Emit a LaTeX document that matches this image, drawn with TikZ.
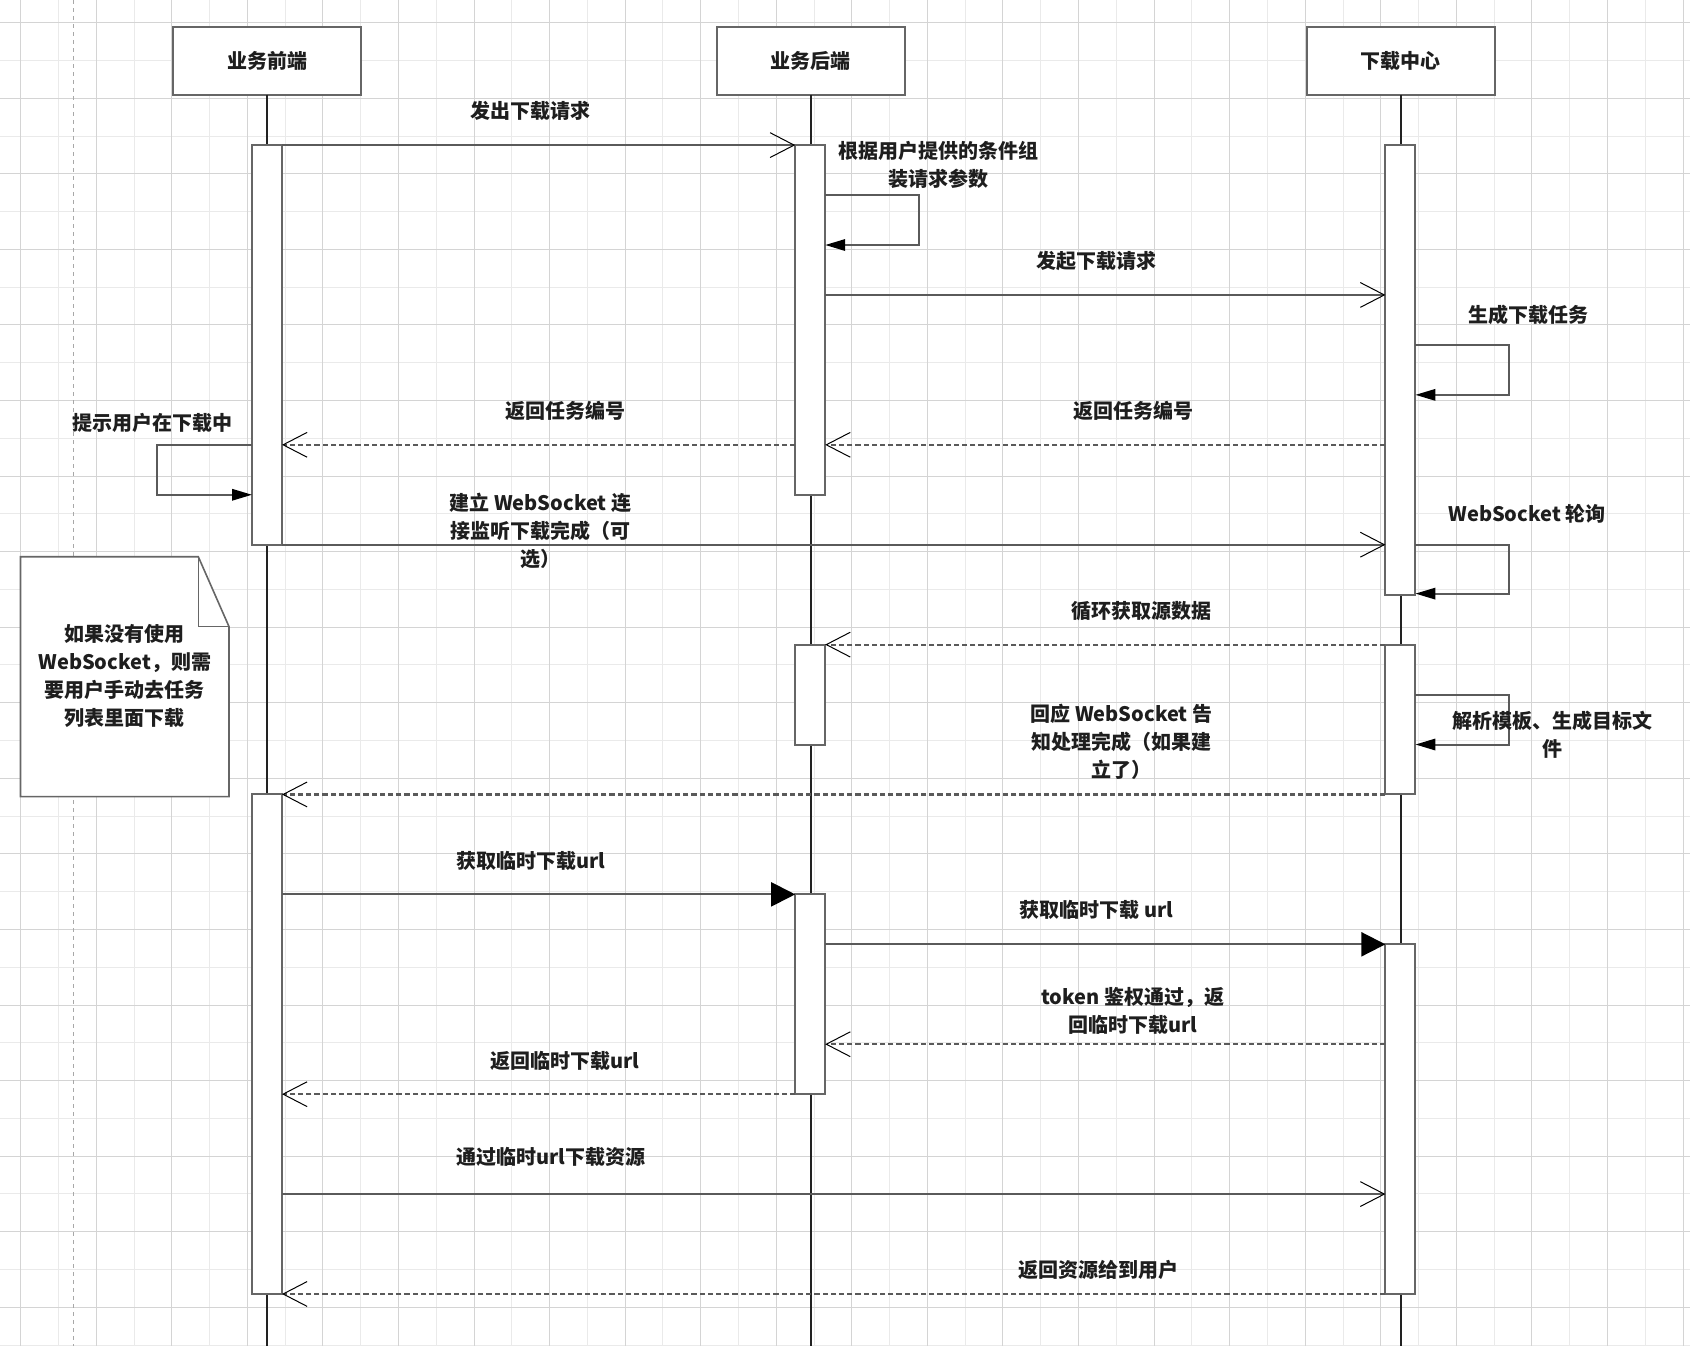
\documentclass[tikz,border=0pt]{standalone}
\usepackage{fontspec}
\setmainfont{Noto Sans CJK SC}
\usetikzlibrary{arrows.meta}
\definecolor{gridA}{HTML}{D4D4D4}
\definecolor{gridB}{HTML}{EAEAEA}
\definecolor{edge}{HTML}{666666}
\definecolor{linec}{HTML}{5A5A5A}
\definecolor{lifec}{HTML}{222222}
\definecolor{pagec}{HTML}{A8A8A8}
\definecolor{txt}{HTML}{1E1E1E}
\begin{document}
\begin{tikzpicture}[x=0.5pt,y=-0.5pt,
 lbl/.style={font=\fontsize{10}{14}\selectfont\bfseries, text=txt, align=center, inner sep=0pt},
 actor/.style={draw=edge, line width=1pt, fill=white, minimum width=94pt, minimum height=34pt, inner sep=0pt, outer sep=0pt, lbl},
 bar/.style={draw=edge, line width=1pt, fill=white, minimum width=15pt, inner sep=0pt, outer sep=0pt},
 life/.style={draw=lifec, line width=1pt},
 msg/.style={draw=linec, line width=1pt},
 ret/.style={msg, line width=1.1pt, dash pattern=on 2.6pt off 1.5pt},
 openhead/.style={-{Straight Barb[length=12pt,width=12.4pt,line width=0.5pt,color=black]}},
 bighead/.style={-{Triangle[length=12pt,width=12pt,color=black]}},
 smallhead/.style={-{Triangle[length=10pt,width=5.7pt,color=black]}},
]
\useasboundingbox (0,0) rectangle (1690,1346);
\fill[white] (0,0) rectangle (1690,1346);
% grid
\foreach \k in {1,3,...,43}{\draw[gridB, line width=0.5pt] ({20.7+37.78*\k},0) -- ({20.7+37.78*\k},1346);}
\foreach \k in {1,3,...,35}{\draw[gridB, line width=0.5pt] (0,{22.7+37.78*\k}) -- (1690,{22.7+37.78*\k});}
\foreach \k in {0,2,...,44}{\draw[gridA, line width=0.5pt] ({20.7+37.78*\k},0) -- ({20.7+37.78*\k},1346);}
\foreach \k in {0,2,...,34}{\draw[gridA, line width=0.5pt] (0,{22.7+37.78*\k}) -- (1690,{22.7+37.78*\k});}
\draw[pagec, line width=0.5pt, dash pattern=on 2pt off 2pt] (73.3,0) -- (73.3,1346);

% actors
\node[actor] (A) at (267,60.5) {业务前端};
\node[actor] (B) at (810.5,60.5) {业务后端};
\node[actor] (C) at (1400.8,60.5) {下载中心};
\coordinate (Aend) at (267,1346);
\coordinate (Bend) at (810.5,1346);
\coordinate (Cend) at (1400.8,1346);
\draw[life] (A.south) -- (Aend);
\draw[life] (B.south) -- (Bend);
\draw[life] (C.south) -- (Cend);

% activation bars
\node[bar, minimum height=199.8pt] (F1) at (267,344.9) {};
\node[bar, minimum height=174.825pt] (B1) at (810.2,319.925) {};
\node[bar, minimum height=224.775pt] (D1) at (1400.4,369.875) {};
\node[bar, minimum height=49.95pt] (B2) at (810.2,694.55) {};
\node[bar, minimum height=74.925pt] (D2) at (1400.4,719.525) {};
\node[bar, minimum height=249.75pt] (F2) at (267,1044.2) {};
\node[bar, minimum height=99.9pt] (B3) at (810.2,994.25) {};
\node[bar, minimum height=174.825pt] (D3) at (1400.4,1119.125) {};

% levels
\coordinate (y1) at (0,195.05);
\coordinate (y2) at (0,245.0);
\coordinate (y3) at (0,294.95);
\coordinate (y4) at (0,344.9);
\coordinate (y5) at (0,394.85);
\coordinate (y6) at (0,444.8);
\coordinate (y7) at (0,494.75);
\coordinate (y8) at (0,544.7);
\coordinate (y9) at (0,593.6);
\coordinate (y11) at (0,694.55);
\coordinate (y12) at (0,744.5);
\coordinate (y18) at (0,1044.2);
\coordinate (y21) at (0,1194.05);

% messages
\draw[msg,openhead] (F1.north east) -- (B1.north west);
\draw[msg,smallhead] (B1.east |- y1) -- ++(93.5,0) |- (B1.east |- y2);
\draw[msg,openhead] (B1.east |- y3) -- (D1.west |- y3);
\draw[msg,smallhead] (D1.east |- y4) -- ++(93.5,0) |- (D1.east |- y5);
\draw[ret,openhead] (D1.west |- y6) -- (B1.east |- y6);
\draw[ret,openhead] (B1.west |- y6) -- (F1.east |- y6);
\draw[msg,smallhead] (F1.west |- y6) -- ++(-95,0) |- (F1.west |- y7);
\draw[msg,openhead] (F1.south east) -- (D1.west |- y8);
\draw[msg,smallhead] (D1.east |- y8) -- ++(93.5,0) |- (D1.east |- y9);
\draw[ret,openhead] (D2.north west) -- (B2.north east);
\draw[msg,smallhead] (D2.east |- y11) -- ++(93.5,0) |- (D2.east |- y12);
\draw[ret,openhead] (D2.south west) -- (F2.north east);
\draw[msg,bighead] (F2.east |- B3.north) -- (B3.north west);
\draw[msg,bighead] (B3.east |- D3.north) -- (D3.north west);
\draw[ret,openhead] (D3.west |- y18) -- (B3.east |- y18);
\draw[ret,openhead] (B3.south west) -- (F2.east |- B3.south west);
\draw[msg,openhead] (F2.east |- y21) -- (D3.west |- y21);
\draw[ret,openhead] (D3.south west) -- (F2.south east);

% note
\draw[draw=edge, line width=0.8pt, fill=white] (20.5,556.7) -- (198.3,556.7) -- (229,626.6) -- (229,796.6) -- (20.5,796.6) -- cycle;
\draw[edge, line width=0.8pt] (198.3,556.7) -- (198.3,626.6) -- (229,626.6);
\node[lbl] (note) at (124.7,676.3) {如果没有使用\\WebSocket，则需\\要用户手动去任务\\列表里面下载};

% labels
\node[lbl] (t1) at (530.8,110.7) {发出下载请求};
\node[lbl] (t2) at (938,164.6) {根据用户提供的条件组\\装请求参数};
\node[lbl] (t3) at (1096.4,260.5) {发起下载请求};
\node[lbl] (t4) at (1528,314.6) {生成下载任务};
\node[lbl] (t5) at (565,410.7) {返回任务编号};
\node[lbl] (t6) at (1133,410.7) {返回任务编号};
\node[lbl] (t7) at (152,422.8) {提示用户在下载中};
\node[lbl] (t8) at (540.5,530.9) {建立 WebSocket 连\\接监听下载完成（可\\选）};
\node[lbl] (t9) at (1527,513.8) {WebSocket 轮询};
\node[lbl] (t10) at (1141,610.8) {循环获取源数据};
\node[lbl] (t11) at (1552,735) {解析模板、生成目标文\\件};
\node[lbl] (t12) at (1121.5,741.7) {回应 WebSocket 告\\知处理完成（如果建\\立了）};
\node[lbl] (t13) at (531,860.6) {获取临时下载url};
\node[lbl] (t14) at (1096.7,910.3) {获取临时下载 url};
\node[lbl] (t15) at (1132.8,1011) {token 鉴权通过，返\\回临时下载url};
\node[lbl] (t16) at (564.8,1060.6) {返回临时下载url};
\node[lbl] (t17) at (550.5,1157.1) {通过临时url下载资源};
\node[lbl] (t18) at (1098.3,1270.4) {返回资源给到用户};
\end{tikzpicture}
\end{document}
